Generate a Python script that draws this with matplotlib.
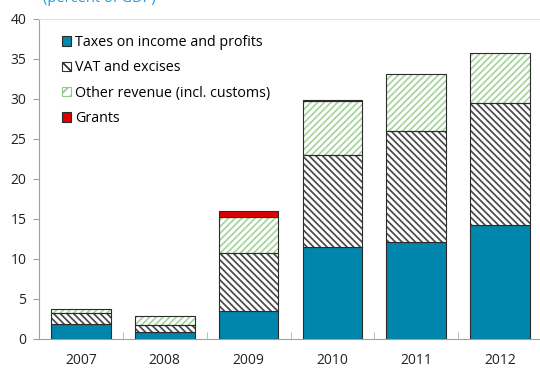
import matplotlib
matplotlib.use("Agg")
import matplotlib.pyplot as plt
from matplotlib.patches import Patch
import numpy as np

plt.rcParams['font.family'] = ['Open Sans', 'DejaVu Sans']
plt.rcParams['hatch.linewidth'] = 1.25

years = ["2007", "2008", "2009", "2010", "2011", "2012"]
income_tax = [1.9, 0.9, 3.5, 11.45, 12.1, 14.2]
vat_excise = [1.3, 0.8, 7.25, 11.6, 13.85, 15.25]
other_rev = [0.55, 1.2, 4.5, 6.65, 7.15, 6.35]
grants = [0.0, 0.0, 0.75, 0.15, 0.0, 0.0]

labels = ["Taxes on income and profits", "VAT and excises",
          "Other revenue (incl. customs)", "Grants"]

blue = "#0086ad"
red = "#e00000"
vat_hatch = "#4a4a4a"
green_hatch = "#a6d49c"
outline = "#2b2b2b"
vat_pattern = "\\\\\\\\\\"
oth_pattern = "/////"

fig = plt.figure(figsize=(5.4, 3.69), dpi=100)
ax = fig.add_axes([39 / 540, 30 / 369, 503 / 540, 320 / 369])

x = np.arange(len(years))
w = 0.71
inc = np.array(income_tax)
vat = np.array(vat_excise)
oth = np.array(other_rev)
gr = np.array(grants)

# income taxes: solid blue
ax.bar(x, inc, w, color=blue, edgecolor=outline, linewidth=0.8, zorder=2)
# VAT: dark diagonal hatch, then an outline on top
ax.bar(x, vat, w, bottom=inc, facecolor="white", edgecolor=vat_hatch,
       hatch=vat_pattern, linewidth=0, zorder=2)
ax.bar(x, vat, w, bottom=inc, fill=False, edgecolor=outline, linewidth=0.8, zorder=3)
# other revenue: light green hatch
b2 = inc + vat
ax.bar(x, oth, w, bottom=b2, facecolor="white", edgecolor=green_hatch,
       hatch=oth_pattern, linewidth=0, zorder=2)
ax.bar(x, oth, w, bottom=b2, fill=False, edgecolor=outline, linewidth=0.8, zorder=3)
# grants: red
b3 = b2 + oth
mask = gr > 0
ax.bar(x[mask], gr[mask], w, bottom=b3[mask], color=red, edgecolor=outline,
       linewidth=0.8, zorder=3)

ax.set_xlim(-0.5, len(years) - 0.5)
ax.set_ylim(0, 40)
ax.set_yticks(np.arange(0, 41, 5))
ax.set_xticks(x)
ax.set_xticklabels(years)
ax.set_xticks(np.arange(0.5, len(years) - 0.5, 1), minor=True)
ax.tick_params(axis='x', which='major', length=0, pad=10, labelsize=10, colors='#222222')
ax.tick_params(axis='x', which='minor', direction='in', length=5, color='#b0b0b0')
ax.tick_params(axis='y', direction='out', length=4, color='#a0a0a0', labelsize=10,
               labelcolor='#222222', pad=5)

for s in ['left', 'bottom']:
    ax.spines[s].set_color('#a0a0a0')
ax.spines['top'].set_color('#e2e2e2')
ax.spines['right'].set_visible(False)

handles = [
    Patch(facecolor=blue, edgecolor=outline, linewidth=0.8),
    Patch(facecolor="white", edgecolor="#333333", hatch="\\\\\\", linewidth=0.8),
    Patch(facecolor="white", edgecolor="#8fca86", hatch="///", linewidth=0.8),
    Patch(facecolor=red, edgecolor=outline, linewidth=0.8),
]
leg = ax.legend(handles, labels, loc='upper left',
                bbox_to_anchor=(62 / 540, 1 - 35 / 369), bbox_transform=fig.transFigure,
                frameon=False, fontsize=10.3, handlelength=0.65, handleheight=0.65,
                handletextpad=0.25, labelspacing=0.72, borderpad=0, borderaxespad=0)

fig.text(43 / 540, 1 - 2.5 / 369, "(percent of GDP)", color="#2b9ad4",
         fontsize=10.5, ha='left', va='baseline')

fig.savefig("out.png", dpi=100)
